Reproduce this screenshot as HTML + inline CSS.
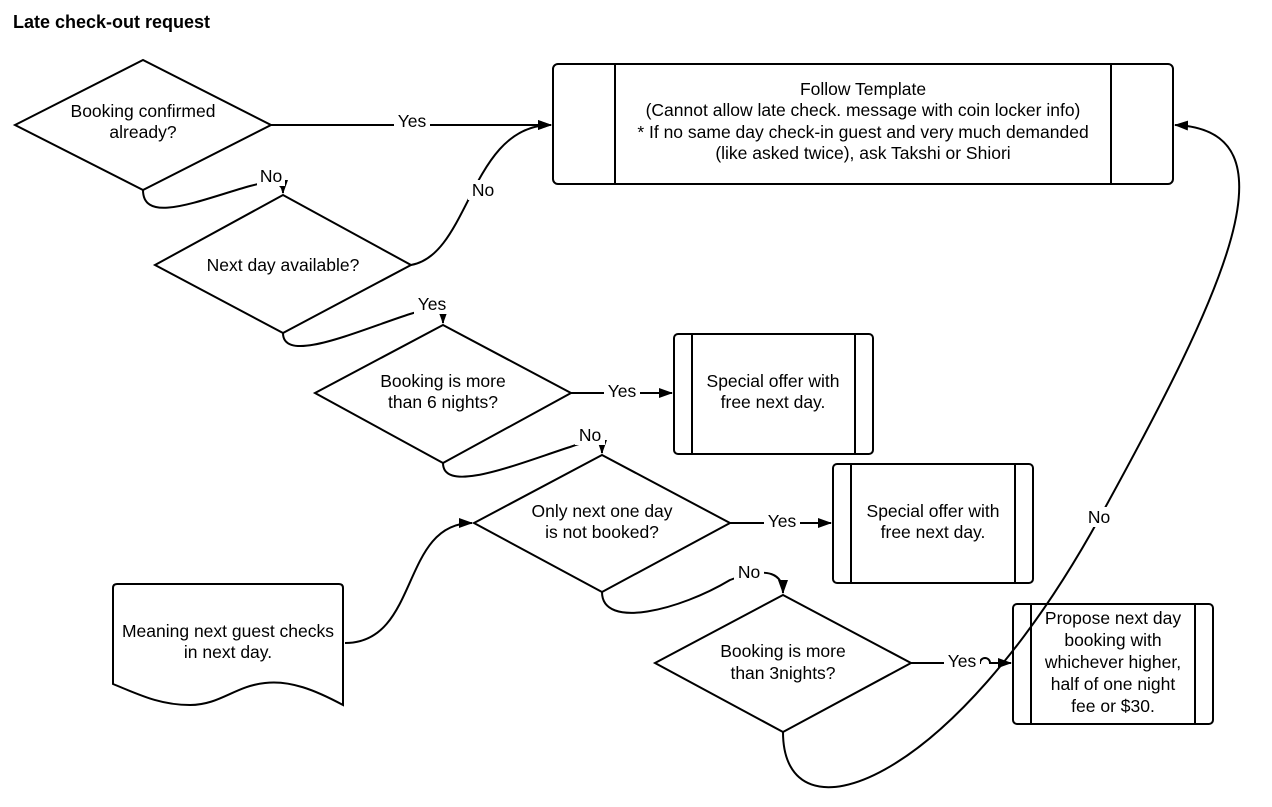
<!DOCTYPE html>
<html><head><meta charset="utf-8"><style>
html,body{margin:0;padding:0;background:#fff;}
svg text{font-family:"Liberation Sans",sans-serif;font-size:17.5px;fill:#000;}
</style></head><body>
<svg width="1272" height="802" viewBox="0 0 1272 802" xmlns="http://www.w3.org/2000/svg">
<defs><marker id="a" markerWidth="14" markerHeight="10" refX="13" refY="5" orient="auto" markerUnits="userSpaceOnUse"><path d="M0,0 L14,5 L0,10 z" fill="#000"/></marker></defs>
<g fill="none" stroke="#000" stroke-width="2">
<polygon points="15,125 143,60 271,125 143,190" fill="#fff"/>
<rect x="553" y="64" width="620" height="120" rx="5"/>
<line x1="615" y1="64" x2="615" y2="184"/><line x1="1111" y1="64" x2="1111" y2="184"/>
<polygon points="155,265 283,195 411,265 283,333" fill="#fff"/>
<polygon points="315,393 443,325 571,393 443,463" fill="#fff"/>
<rect x="674" y="334" width="199" height="120" rx="4"/>
<line x1="692" y1="334" x2="692" y2="454"/><line x1="855" y1="334" x2="855" y2="454"/>
<polygon points="474,523 602,455 730,523 602,592" fill="#fff"/>
<rect x="833" y="464" width="200" height="119" rx="4"/>
<line x1="851" y1="464" x2="851" y2="583"/><line x1="1015" y1="464" x2="1015" y2="583"/>
<path d="M117,584 L339,584 Q343,584 343,588 L343,705 C315,690 290,680 265,683 C235,686 220,705 190,705 C160,705 140,695 113,684 L113,588 Q113,584 117,584 Z"/>
<polygon points="655,663 783,595 911,663 783,732" fill="#fff"/>
<rect x="1013" y="604" width="200" height="120" rx="4"/>
<line x1="1031" y1="604" x2="1031" y2="724"/><line x1="1195" y1="604" x2="1195" y2="724"/>
<path d="M271,125 L551,125" marker-end="url(#a)"/>
<path d="M143,190 C143,225 200,200 250,186 C272,180 283,182 283,193" marker-end="url(#a)"/>
<path d="M411,265 C470,255 470,125 551,125" marker-end="url(#a)"/>
<path d="M283,333 C283,365 360,330 410,314 C435,306 443,310 443,323" marker-end="url(#a)"/>
<path d="M571,393 L672,393" marker-end="url(#a)"/>
<path d="M443,463 C443,495 520,463 570,447 C595,438 602,440 602,453" marker-end="url(#a)"/>
<path d="M730,523 L831,523" marker-end="url(#a)"/>
<path d="M345,643 C420,643 400,523 472,523" marker-end="url(#a)"/>
<path d="M602,592 C602,630 680,610 730,580 C770,565 783,575 783,593" marker-end="url(#a)"/>
<path d="M911,663 L980,663 A5,5 0 0 1 990,663 L1011,663" marker-end="url(#a)"/>
<path d="M783,732 C783,845 950,790 1100,517 C1225,290 1300,130 1175,125" marker-end="url(#a)"/>
</g>
<g fill="#fff">
<rect x="394" y="112" width="36" height="20"/><rect x="257" y="166" width="28" height="20"/>
<rect x="468" y="180" width="30" height="20"/><rect x="414" y="294" width="36" height="20"/>
<rect x="604" y="381" width="36" height="20"/><rect x="575" y="425" width="30" height="20"/>
<rect x="764" y="511" width="36" height="20"/><rect x="734" y="562" width="30" height="20"/>
<rect x="944" y="651" width="36" height="20"/><rect x="1084" y="507" width="30" height="20"/>
</g>
<text x="13" y="28" style="font-weight:bold;font-size:18px">Late check-out request</text>
<g text-anchor="middle">
<text x="143" y="117">Booking confirmed</text><text x="143" y="138">already?</text>
<text x="863" y="95">Follow Template</text>
<text x="863" y="116">(Cannot allow late check. message with coin locker info)</text>
<text x="863" y="138">* If no same day check-in guest and very much demanded</text>
<text x="863" y="159">(like asked twice), ask Takshi or Shiori</text>
<text x="283" y="271">Next day available?</text>
<text x="443" y="387">Booking is more</text><text x="443" y="408">than 6 nights?</text>
<text x="773" y="387">Special offer with</text><text x="773" y="408">free next day.</text>
<text x="602" y="517">Only next one day</text><text x="602" y="538">is not booked?</text>
<text x="933" y="517">Special offer with</text><text x="933" y="538">free next day.</text>
<text x="228" y="637">Meaning next guest checks</text><text x="228" y="658">in next day.</text>
<text x="783" y="657">Booking is more</text><text x="783" y="679">than 3nights?</text>
<text x="1113" y="624">Propose next day</text><text x="1113" y="646">booking with</text>
<text x="1113" y="668">whichever higher,</text><text x="1113" y="690">half of one night</text>
<text x="1113" y="712">fee or $30.</text>
<text x="412" y="127">Yes</text><text x="271" y="182">No</text><text x="483" y="196">No</text>
<text x="432" y="310">Yes</text><text x="622" y="397">Yes</text><text x="590" y="441">No</text>
<text x="782" y="527">Yes</text><text x="749" y="578">No</text><text x="962" y="667">Yes</text>
<text x="1099" y="523">No</text>
</g>
</svg>
</body></html>
